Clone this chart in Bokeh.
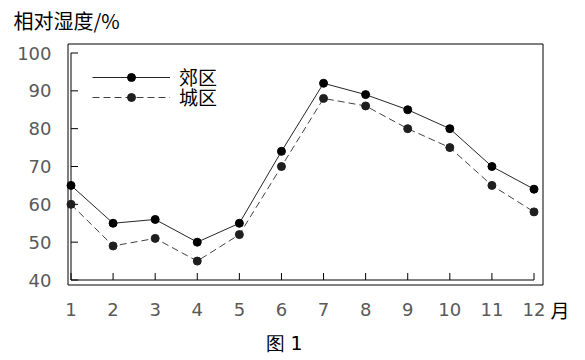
from bokeh.plotting import figure
from bokeh.models import Range1d, Label, Legend, LegendItem
from bokeh.core.properties import value
from bokeh.embed import file_html
from bokeh.resources import INLINE

# ---- data ----
months = list(range(1, 13))
suburb = [65, 55, 56, 50, 55, 74, 92, 89, 85, 80, 70, 64]
urban = [60, 49, 51, 45, 52, 70, 88, 86, 80, 75, 65, 58]
y_ticks = [40, 50, 60, 70, 80, 90, 100]
x_ticks = months
series_names = ["郊区", "城区"]
title_text = "相对湿度/%"
x_unit = "月"
caption = "图 1"

# ---- scales: canvas pixels <-> data ----
W, H = 585, 360
SX = 463.0 / 11.0          # px per month
SY = 227.0 / 60.0          # px per % RH
X_START = x_ticks[0] - 70.5 / SX
X_END = X_START + W / SX
Y_TOP = y_ticks[0] + 279.5 / SY
Y_BOTTOM = Y_TOP - H / SY


def px_x(px):
    return X_START + px / SX


def px_y(py):
    return Y_TOP - py / SY


p = figure(width=W, height=H, output_backend="svg", toolbar_location=None,
           x_range=Range1d(X_START, X_END), y_range=Range1d(Y_BOTTOM, Y_TOP),
           x_axis_location=None, y_axis_location=None, min_border=0)
p.outline_line_color = None
p.grid.visible = False
p.background_fill_color = "white"
p.border_fill_color = "white"

# outer box
p.quad(left=[px_x(67.5)], right=[px_x(542.5)], top=[px_y(43.5)], bottom=[px_y(284.5)],
       fill_color=None, line_color="black", line_width=1)

# inner axes (line + inward ticks)
TICK = 7
x0, y0 = x_ticks[0], y_ticks[0]
p.segment(x0=[x0, x0], y0=[y0, y0], x1=[x0, x_ticks[-1]], y1=[y_ticks[-1], y0],
          line_color="black", line_width=1)
p.segment(x0=[x0] * len(y_ticks), y0=y_ticks, x1=[x0 + TICK / SX] * len(y_ticks), y1=y_ticks,
          line_color="black", line_width=1)
p.segment(x0=x_ticks, y0=[y0] * len(x_ticks), x1=x_ticks, y1=[y0 + TICK / SY] * len(x_ticks),
          line_color="black", line_width=1)

# tick labels
tick_font = value("DejaVu Sans")
p.text(x=[x0 - 19.5 / SX] * len(y_ticks), y=y_ticks, text=[str(t) for t in y_ticks],
       text_align="right", text_baseline="middle", text_font=tick_font,
       text_font_size="18px", text_color="#595959")
p.text(x=x_ticks, y=[y0 - 29.5 / SY] * len(x_ticks), text=[str(t) for t in x_ticks],
       text_align="center", text_baseline="middle", text_font=tick_font,
       text_font_size="18px", text_color="#595959")

# series
l1 = p.line(months, suburb, line_color="#262626", line_width=1)
s1 = p.scatter(months, suburb, size=8, fill_color="black", line_color="black")
l2 = p.line(months, urban, line_color="#404040", line_width=1, line_dash="7 4")
s2 = p.scatter(months, urban, size=8, fill_color="#1f1f1f", line_color="#1f1f1f")

common = dict(orientation="vertical", glyph_width=78, glyph_height=20, label_height=20,
              label_standoff=9, spacing=0, padding=0, margin=0,
              border_line_color=None, background_fill_alpha=0,
              label_text_font="Noto Sans CJK SC", label_text_font_size="19px",
              label_text_color="black")
p.add_layout(Legend(items=[LegendItem(label=series_names[0], renderers=[l1, s1])],
                    location=(92, 270), **common))
p.add_layout(Legend(items=[LegendItem(label=series_names[1], renderers=[l2, s2])],
                    location=(92, 250), **common))

cjk = "Noto Sans CJK SC"
p.add_layout(Label(x=px_x(13), y=px_y(19.5), text=title_text, text_font=cjk,
                   text_font_size="20px", text_color="black",
                   text_baseline="middle", text_align="left"))
p.add_layout(Label(x=px_x(550), y=px_y(309), text=x_unit, text_font=cjk,
                   text_font_size="19px", text_color="black",
                   text_baseline="middle", text_align="left"))
p.add_layout(Label(x=px_x(265), y=px_y(342), text=caption, text_font="DejaVu Sans",
                   text_font_size="19px", text_color="black",
                   text_baseline="middle", text_align="left"))

open("out.html", "w").write(file_html(p, INLINE))
